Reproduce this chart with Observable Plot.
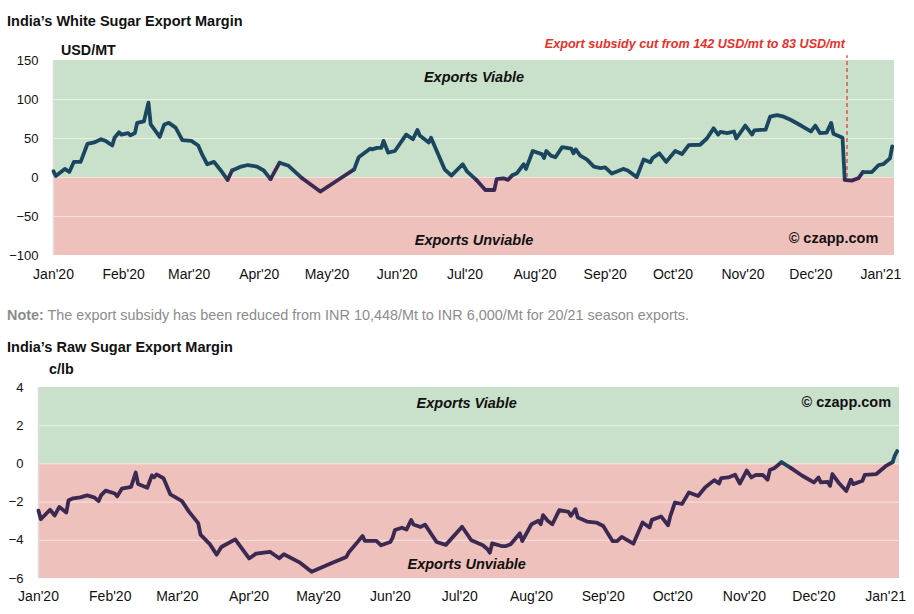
<!DOCTYPE html>
<html>
<head>
<meta charset="utf-8">
<script src="https://cdn.jsdelivr.net/npm/d3@7"></script>
<script src="https://cdn.jsdelivr.net/npm/@observablehq/plot@0.6"></script>
<style>
  html, body { margin: 0; padding: 0; background: #fff; }
  #wrap { position: relative; width: 914px; height: 614px; overflow: hidden; font-family: "Liberation Sans", Arial, Helvetica, sans-serif; }
  .abs { position: absolute; white-space: nowrap; line-height: 16px; }
  .title { font-size: 14.5px; font-weight: bold; color: #111; }
  .unit { font-size: 14.3px; font-weight: bold; color: #111; }
  .note { font-size: 14.4px; color: #8c8c8c; }
  .note b { color: #8c8c8c; }
  svg { position: absolute; left: 0; }
</style>
</head>
<body>
<div id="wrap">
  <div class="abs title" style="left:7px; top:13px;">India’s White Sugar Export Margin</div>
  <div class="abs unit" style="left:61px; top:42px;">USD/MT</div>
  <div class="abs note" style="left:7px; top:307px;"><b>Note:</b> The export subsidy has been reduced from INR 10,448/Mt to INR 6,000/Mt for 20/21 season exports.</div>
  <div class="abs title" style="left:7px; top:339px;">India’s Raw Sugar Export Margin</div>
  <div class="abs unit" style="left:49px; top:361px;">c/lb</div>
</div>
<script>
// ---------- data ----------
const xStart = "2020-01-01";
const xEnd = "2021-01-07";
const monthTicks = ["2020-01-01","2020-02-01","2020-03-01","2020-04-01","2020-05-01","2020-06-01","2020-07-01","2020-08-01","2020-09-01","2020-10-01","2020-11-01","2020-12-01","2021-01-01"];
const whiteTicks = [-100, -50, 0, 50, 100, 150];
const rawTicks = [-6, -4, -2, 0, 2, 4];

const whiteDates = ["2020-01-01","2020-01-02","2020-01-06","2020-01-08","2020-01-10","2020-01-13","2020-01-16","2020-01-19","2020-01-22","2020-01-24","2020-01-27","2020-01-28","2020-01-30","2020-01-31","2020-02-03","2020-02-04","2020-02-06","2020-02-07","2020-02-10","2020-02-12","2020-02-13","2020-02-17","2020-02-19","2020-02-21","2020-02-24","2020-02-27","2020-03-02","2020-03-05","2020-03-07","2020-03-09","2020-03-12","2020-03-15","2020-03-18","2020-03-20","2020-03-24","2020-03-27","2020-03-31","2020-04-03","2020-04-06","2020-04-10","2020-04-14","2020-04-20","2020-04-28","2020-05-07","2020-05-13","2020-05-15","2020-05-20","2020-05-21","2020-05-23","2020-05-25","2020-05-26","2020-05-28","2020-05-31","2020-06-05","2020-06-08","2020-06-10","2020-06-11","2020-06-15","2020-06-16","2020-06-22","2020-06-25","2020-06-30","2020-07-02","2020-07-06","2020-07-10","2020-07-14","2020-07-15","2020-07-18","2020-07-20","2020-07-22","2020-07-24","2020-07-27","2020-07-28","2020-07-31","2020-08-04","2020-08-05","2020-08-06","2020-08-08","2020-08-10","2020-08-13","2020-08-17","2020-08-18","2020-08-19","2020-08-21","2020-08-24","2020-08-27","2020-08-30","2020-09-01","2020-09-04","2020-09-09","2020-09-11","2020-09-15","2020-09-18","2020-09-21","2020-09-22","2020-09-25","2020-09-28","2020-10-02","2020-10-05","2020-10-08","2020-10-13","2020-10-16","2020-10-19","2020-10-21","2020-10-22","2020-10-25","2020-10-28","2020-10-29","2020-11-02","2020-11-05","2020-11-06","2020-11-11","2020-11-13","2020-11-16","2020-11-19","2020-11-22","2020-11-27","2020-12-01","2020-12-03","2020-12-05","2020-12-08","2020-12-10","2020-12-11","2020-12-15","2020-12-16","2020-12-19","2020-12-22","2020-12-24","2020-12-28","2020-12-31","2021-01-02","2021-01-05","2021-01-06"];
const whiteValues = [8,2,11,7,20,20,43,45,49,47,41,51,58,55,57,54,57,70,72,96,68,52,68,70,64,48,47,41,28,17,20,9,-3,9,14,16,14,9,-2,19,15,-1,-18,-1,10.5,26,37,36,38,38,47,32,34,55,49,61,54,45,51,10.5,2.5,17,7.5,-3,-16,-16,-2,-1,-3,3,5.5,17,11,34,30,25,34,28,26,39,37,31,36,28,23,14,12,13,5,11,9,0.5,23,19.5,25,31,20,34,30,41.5,42,50,63,55,58.5,57,59,50,66.5,55,60.5,61.5,78,80,78,74,66,59,66.5,57,57.5,70,56,51,-3,-4,-1,7,7,16,17,24.5,40];

const rawDates = ["2020-01-01","2020-01-02","2020-01-06","2020-01-08","2020-01-10","2020-01-13","2020-01-14","2020-01-16","2020-01-19","2020-01-22","2020-01-25","2020-01-27","2020-01-28","2020-01-30","2020-02-03","2020-02-04","2020-02-06","2020-02-10","2020-02-12","2020-02-13","2020-02-17","2020-02-19","2020-02-20","2020-02-21","2020-02-24","2020-02-27","2020-03-03","2020-03-06","2020-03-10","2020-03-11","2020-03-15","2020-03-18","2020-03-20","2020-03-26","2020-04-01","2020-04-04","2020-04-10","2020-04-14","2020-04-16","2020-04-23","2020-04-28","2020-05-07","2020-05-13","2020-05-14","2020-05-18","2020-05-20","2020-05-21","2020-05-26","2020-05-28","2020-06-01","2020-06-02","2020-06-03","2020-06-06","2020-06-08","2020-06-10","2020-06-11","2020-06-14","2020-06-16","2020-06-21","2020-06-25","2020-07-02","2020-07-06","2020-07-09","2020-07-11","2020-07-13","2020-07-14","2020-07-15","2020-07-19","2020-07-21","2020-07-23","2020-07-27","2020-07-28","2020-08-01","2020-08-04","2020-08-05","2020-08-06","2020-08-08","2020-08-10","2020-08-13","2020-08-17","2020-08-18","2020-08-20","2020-08-21","2020-08-25","2020-08-29","2020-09-01","2020-09-05","2020-09-07","2020-09-09","2020-09-14","2020-09-18","2020-09-21","2020-09-22","2020-09-26","2020-09-29","2020-09-30","2020-10-02","2020-10-05","2020-10-07","2020-10-08","2020-10-12","2020-10-15","2020-10-19","2020-10-21","2020-10-22","2020-10-25","2020-10-28","2020-10-30","2020-11-02","2020-11-04","2020-11-06","2020-11-09","2020-11-11","2020-11-12","2020-11-14","2020-11-17","2020-11-21","2020-11-26","2020-12-01","2020-12-03","2020-12-04","2020-12-07","2020-12-08","2020-12-09","2020-12-12","2020-12-15","2020-12-17","2020-12-18","2020-12-22","2020-12-23","2020-12-28","2021-01-01","2021-01-04","2021-01-05","2021-01-06"];
const rawValues = [-2.45,-2.9,-2.4,-2.7,-2.25,-2.55,-1.9,-1.8,-1.75,-1.65,-1.75,-1.95,-1.65,-1.4,-1.55,-1.7,-1.3,-1.2,-0.45,-1.05,-1.25,-0.6,-0.7,-0.55,-0.75,-1.6,-1.95,-2.5,-3.1,-3.7,-4.2,-4.75,-4.35,-3.95,-4.95,-4.7,-4.6,-4.94,-4.73,-5.17,-5.65,-5.17,-4.87,-4.64,-4.07,-3.77,-4.03,-4.03,-4.26,-4.09,-3.86,-3.46,-3.34,-3.44,-2.94,-3.17,-3.3,-3.18,-4.09,-4.24,-3.29,-4.0,-4.16,-4.26,-4.47,-4.65,-4.16,-4.3,-4.3,-4.21,-3.63,-4.04,-3.16,-2.98,-3.16,-2.68,-2.98,-3.16,-2.42,-2.51,-2.72,-2.37,-2.81,-3.02,-3.07,-3.25,-4.04,-4.04,-3.82,-4.18,-3.07,-3.33,-2.93,-2.75,-3.21,-2.72,-2.02,-2.1,-1.7,-1.5,-1.68,-1.24,-0.85,-1.03,-0.74,-0.71,-0.57,-1.03,-0.35,-0.71,-0.57,-0.58,-0.83,-0.32,-0.21,0.09,-0.21,-0.62,-0.97,-0.71,-0.97,-0.94,-1.15,-0.53,-1.03,-1.42,-0.83,-1.06,-0.88,-0.57,-0.53,-0.12,0.09,0.44,0.67];

const subsidyCutDate = "2020-12-17";
const subsidyCutText = "Export subsidy cut from 142 USD/mt to 83 USD/mt";

const whiteLabels = [
  {text: "Exports Viable", date: "2020-07-05", value: 129},
  {text: "Exports Unviable", date: "2020-07-05", value: -81}
];
const whiteCredit = {text: "© czapp.com", date: "2020-12-11", value: -78};
const rawLabels = [
  {text: "Exports Viable", date: "2020-07-04", value: 3.15},
  {text: "Exports Unviable", date: "2020-07-04", value: -5.27}
];
const rawCredit = {text: "© czapp.com", date: "2020-12-15", value: 3.2};

// ---------- build ----------
const green = "#c9e0cb", red = "#efc1bc";
const blueLine = "#1b4660", purpleLine = "#3b2952";
const toRows = (dates, values) => dates.map((d, i) => ({date: new Date(d), value: values[i]}));
const white = toRows(whiteDates, whiteValues);
const raw = toRows(rawDates, rawValues);
const x0 = new Date(xStart), x1 = new Date(xEnd);
const fmt = d3.utcFormat("%b'%y");
const font = "'Liberation Sans', Arial, Helvetica, sans-serif";

function panel({data, yDomain, ticks, labels, credit, width, height, mt, mb, ml, mr, xPad, extra = []}) {
  const zones = [
    {y1: 0, y2: yDomain[1], fill: green},
    {y1: yDomain[0], y2: 0, fill: red}
  ];
  const inner = ticks.filter(t => t !== yDomain[0] && t !== yDomain[1] && t !== 0);
  const chart = Plot.plot({
    width, height,
    marginTop: mt, marginBottom: mb, marginLeft: ml, marginRight: mr,
    style: {fontFamily: font, fontSize: "13px", color: "#111", background: "transparent", overflow: "visible"},
    x: {type: "utc", domain: [x0, x1], ticks: monthTicks.map(d => new Date(d)), tickFormat: fmt, tickSize: 0, tickPadding: xPad, label: null},
    y: {domain: yDomain, ticks: ticks, tickSize: 0, tickPadding: 15, label: null},
    marks: [
      Plot.rect(zones, {x1: () => x0, x2: () => x1, y1: "y1", y2: "y2", fill: "fill"}),
      Plot.ruleY(inner, {stroke: "#ffffff", strokeOpacity: 0.55, strokeWidth: 1}),
      Plot.ruleY([0], {stroke: "#ffffff", strokeOpacity: 0.5, strokeWidth: 1}),
      Plot.ruleX([x0], {stroke: "#dcdcdc", strokeWidth: 1.5}),
      ...extra,
      Plot.line(data, {x: "date", y: "value", z: null,
        stroke: d => d.value >= 0 ? blueLine : purpleLine,
        strokeWidth: 3.8, strokeLinejoin: "round", strokeLinecap: "round"}),
      Plot.text(labels, {x: d => new Date(d.date), y: "value", text: "text",
        fontWeight: "bold", fontStyle: "italic", fontSize: 14.5, fill: "#111"}),
      Plot.text([credit], {x: d => new Date(d.date), y: "value", text: "text",
        fontWeight: "bold", fontSize: 14.5, fill: "#111"})
    ]
  });
  // x tick labels are a little larger than y tick labels in the reference
  chart.querySelectorAll("g[aria-label='x-axis tick label'] text, g[aria-label='x-axis'] text").forEach(t => t.style.fontSize = "14px");
  const xg = chart.querySelector("g[aria-label='x-axis tick label']") || chart.querySelector("g[aria-label='x-axis']");
  if (xg) xg.setAttribute("font-size", "14");
  return chart;
}

const cut = new Date(subsidyCutDate);
const p1 = panel({
  data: white, yDomain: [-100, 150], ticks: whiteTicks,
  labels: whiteLabels, credit: whiteCredit,
  width: 914, height: 290, mt: 60, mb: 35, ml: 53, mr: 20, xPad: 14,
  extra: [
    Plot.ruleX([cut], {x: d => d, y1: 0, y2: 156, stroke: "#e8302a", strokeWidth: 1.2, strokeDasharray: "4,3"}),
    Plot.text([subsidyCutText], {x: () => cut, y: () => 171, text: d => d, textAnchor: "end", dx: -2,
      fill: "#e8302a", fontWeight: "bold", fontStyle: "italic", fontSize: 12.6})
  ]
});
p1.style.top = "0px";

const p2 = panel({
  data: raw, yDomain: [-6, 4], ticks: rawTicks,
  labels: rawLabels, credit: rawCredit,
  width: 914, height: 284, mt: 57, mb: 36, ml: 38, mr: 15, xPad: 13
});
p2.style.top = "330px";

const wrap = document.getElementById("wrap");
wrap.appendChild(p1);
wrap.appendChild(p2);
</script>
</body>
</html>
